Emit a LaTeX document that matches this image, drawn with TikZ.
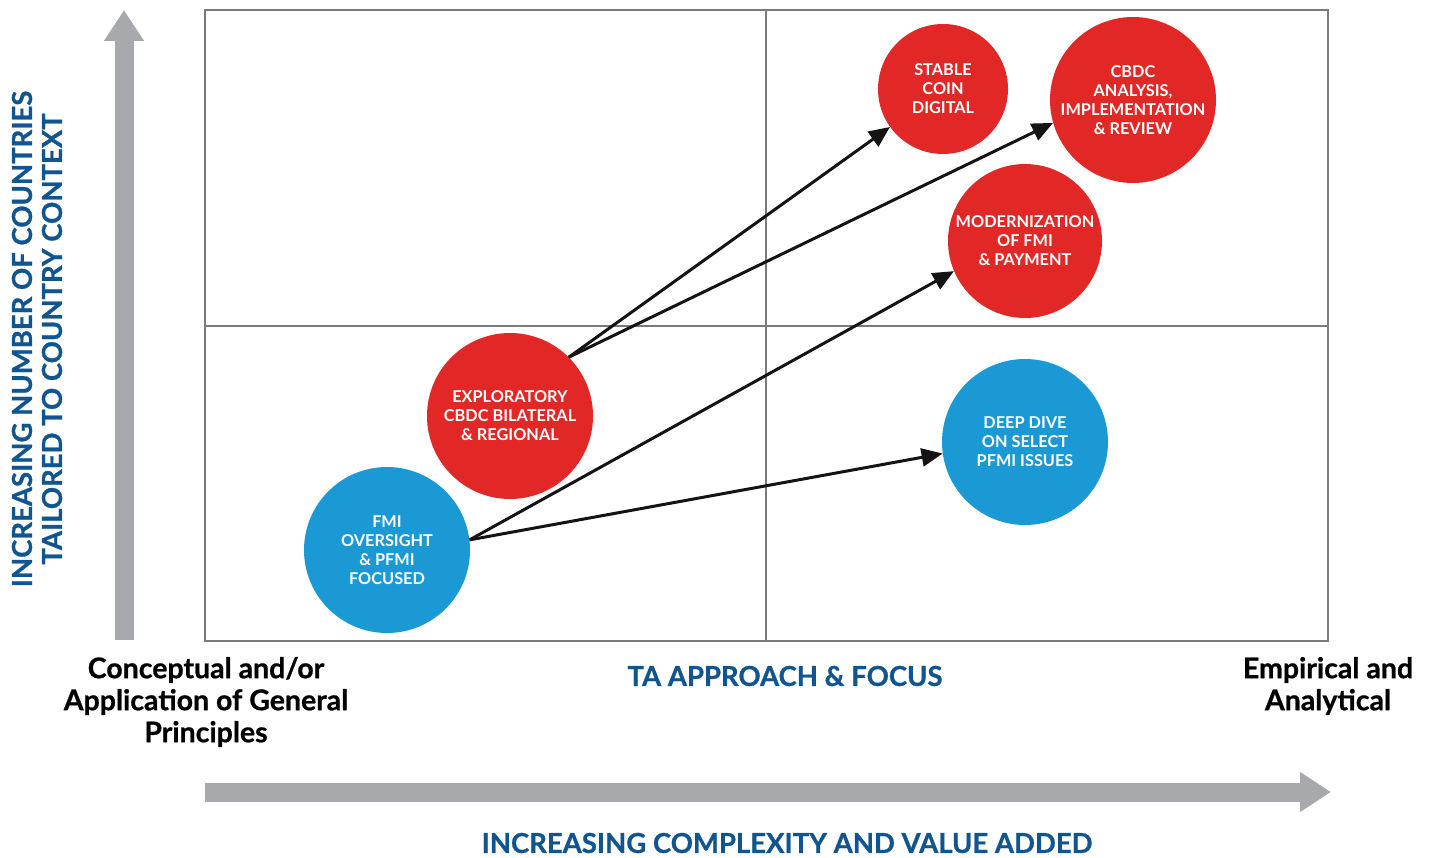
\documentclass[tikz,border=0pt]{standalone}
\usepackage{fontspec}
\setmainfont{Lato}
\newfontfamily\heavyfont{Lato}[BoldFeatures={FakeBold=0.8}]
\usetikzlibrary{arrows.meta}
\definecolor{TARed}{HTML}{E22826}
\definecolor{TABlue}{HTML}{1A99D5}
\definecolor{TANavy}{HTML}{10558F}
\definecolor{TAGray}{HTML}{A7A9AC}
\definecolor{TAFrame}{HTML}{7A7A7A}
\tikzset{
    % Topic bubbles
    topic/.style={
        circle,
        draw=none,
        inner sep=0pt,
        text=white,
        align=center,
        font=\fontsize{16.3}{19}\selectfont\bfseries
    },
    topic red/.style={
        topic,
        fill=TARed
    },
    topic blue/.style={
        topic,
        fill=TABlue
    },
    move arrow/.style={
        -{Triangle[length=21pt,width=18pt]},
        line width=3pt,
        black!92
    },
    axis arrow/.style={
        -{Triangle[length=31pt,width=38pt]},
        line width=19pt,
        TAGray
    },
    axis title/.style={
        text=TANavy,
        align=center,
        font=\fontsize{27.5}{30}\selectfont\heavyfont\bfseries
    },
    end label/.style={
        align=center,
        font=\fontsize{28.5}{32}\selectfont\heavyfont\bfseries
    }
}
\begin{document}
\begin{tikzpicture}[x=1pt, y=-1pt]
    \useasboundingbox (0,0) rectangle (1434,858);

    % Quadrant frame
    \draw[TAFrame, line width=2.5pt] (205,10) rectangle (1328,641);
    \draw[TAFrame, line width=2.5pt] (766,10) -- (766,641);
    \draw[TAFrame, line width=2.5pt] (205,326) -- (1328,326);

    % Axis arrows
    \coordinate (ybottom) at (124,640);
    \coordinate (ytop) at (124,10);
    \coordinate (xleft) at (205,792);
    \coordinate (xright) at (1331,792);
    \draw[axis arrow] (ybottom) -- (ytop);
    \draw[axis arrow] (xleft) -- (xright);

    % Topics
    \node[topic red, minimum size=130pt] (stable) at (943,89) {STABLE\\COIN\\DIGITAL};
    \node[topic red, minimum size=166pt] (cbdc) at (1133,100) {CBDC\\ANALYSIS,\\IMPLEMENTATION\\\& REVIEW};
    \node[topic red, minimum size=154pt] (modern) at (1025,241) {MODERNIZATION\\OF FMI\\\& PAYMENT};
    \node[topic blue, minimum size=166pt] (deep) at (1025,442) {DEEP DIVE\\ON SELECT\\PFMI ISSUES};
    \node[topic red, minimum size=166pt] (explore) at (510,416) {EXPLORATORY\\CBDC BILATERAL\\\& REGIONAL};
    \node[topic blue, minimum size=166pt] (fmi) at (387,550) {FMI\\OVERSIGHT\\\& PFMI\\FOCUSED};

    % Progression arrows
    \draw[move arrow] (explore.45) -- (stable);
    \draw[move arrow] (explore.45) -- (cbdc.196);
    \draw[move arrow] (fmi.7) -- (modern.203);
    \draw[move arrow] (fmi.7) -- (deep.188);

    % Axis titles
    \node[axis title, rotate=90] (countries) at (37,339) {INCREASING NUMBER OF COUNTRIES\\TAILORED TO COUNTRY CONTEXT};
    \node[axis title] (focus) at (785,676) {TA APPROACH \& FOCUS};
    \node[axis title] (complexity) at (787,843) {INCREASING COMPLEXITY AND VALUE ADDED};

    % Ends of the scale
    \node[end label] (conceptual) at (206,702) {Conceptual and/or\\Application of General\\Principles};
    \node[end label] (empirical) at (1328,686) {Empirical and\\Analytical};
\end{tikzpicture}
\end{document}
